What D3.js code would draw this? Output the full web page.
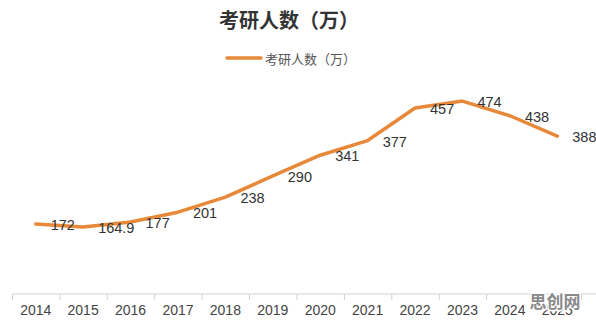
<!DOCTYPE html>
<html>
<head>
<meta charset="utf-8">
<script src="https://cdn.jsdelivr.net/npm/d3@7"></script>
<style>
  body { margin: 0; background: #fff; }
  svg { display: block; font-family: "Liberation Sans", Arial, sans-serif; }
</style>
</head>
<body>
<svg id="chart" width="596" height="321"></svg>
<script>
// data
const years = ["2014", "2015", "2016", "2017", "2018", "2019", "2020", "2021", "2022", "2023", "2024", "2025"];
const applicants = [172, 164.9, 177, 201, 238, 290, 341, 377, 457, 474, 438, 388];
const titleText = "考研人数（万）";
const seriesName = "考研人数（万）";

const svg = d3.select("#chart");

const x = d3.scaleBand().domain(years).range([12, 581]);
const y = d3.scaleLinear().domain([0, 500]).range([294, 90.5]);

const orange = "#e8893a";

// title
svg.append("text")
  .attr("x", 289).attr("y", 28)
  .attr("text-anchor", "middle")
  .attr("font-family", "'Noto Sans CJK SC', sans-serif")
  .attr("font-weight", "bold")
  .attr("font-size", 20)
  .attr("fill", "#333")
  .text(titleText);

// legend
svg.append("line")
  .attr("x1", 227).attr("x2", 261)
  .attr("y1", 58).attr("y2", 58)
  .attr("stroke", orange).attr("stroke-width", 3.5)
  .attr("stroke-linecap", "round");
svg.append("text")
  .attr("x", 265).attr("y", 58)
  .attr("dominant-baseline", "central")
  .attr("font-family", "'Noto Sans CJK SC', sans-serif")
  .attr("font-size", 13)
  .attr("fill", "#555")
  .text(seriesName);

// x axis: baseline plus ticks on band edges
const axis = svg.append("g");
axis.append("line")
  .attr("x1", x.range()[0]).attr("x2", 596)
  .attr("y1", y(0)).attr("y2", y(0))
  .attr("stroke", "#d0d0d0").attr("stroke-width", 1);
const edges = years.map(d => x(d)).concat([x.range()[1]]);
axis.selectAll("line.tick").data(edges).join("line")
  .attr("class", "tick")
  .attr("x1", d => d + 0.5).attr("x2", d => d + 0.5)
  .attr("y1", y(0)).attr("y2", y(0) + 6)
  .attr("stroke", "#d0d0d0");
axis.selectAll("text").data(years).join("text")
  .attr("x", d => x(d) + x.bandwidth() / 2)
  .attr("y", 315)
  .attr("text-anchor", "middle")
  .attr("font-size", 14)
  .attr("fill", "#444")
  .text(d => d);

// series line
const pts = years.map((d, i) => [x(d) + x.bandwidth() / 2, y(applicants[i])]);
svg.append("path")
  .attr("d", d3.line()(pts))
  .attr("fill", "none")
  .attr("stroke", orange)
  .attr("stroke-width", 3.5)
  .attr("stroke-linejoin", "round")
  .attr("stroke-linecap", "round");

// value labels
svg.selectAll("text.val").data(years).join("text")
  .attr("class", "val")
  .attr("x", d => x(d) + x.bandwidth() / 2 + 15)
  .attr("y", (d, i) => y(applicants[i]) + 1)
  .attr("dominant-baseline", "central")
  .attr("font-size", 14.5)
  .attr("fill", "#333")
  .text((d, i) => applicants[i]);

// watermark
svg.append("text")
  .attr("x", 555).attr("y", 308)
  .attr("text-anchor", "middle")
  .attr("font-family", "'Noto Sans CJK SC', sans-serif")
  .attr("font-weight", "bold")
  .attr("font-size", 17)
  .attr("fill", "#8a8a8a")
  .attr("stroke", "#fff").attr("stroke-width", 3)
  .attr("paint-order", "stroke")
  .text("思创网");
</script>
</body>
</html>
